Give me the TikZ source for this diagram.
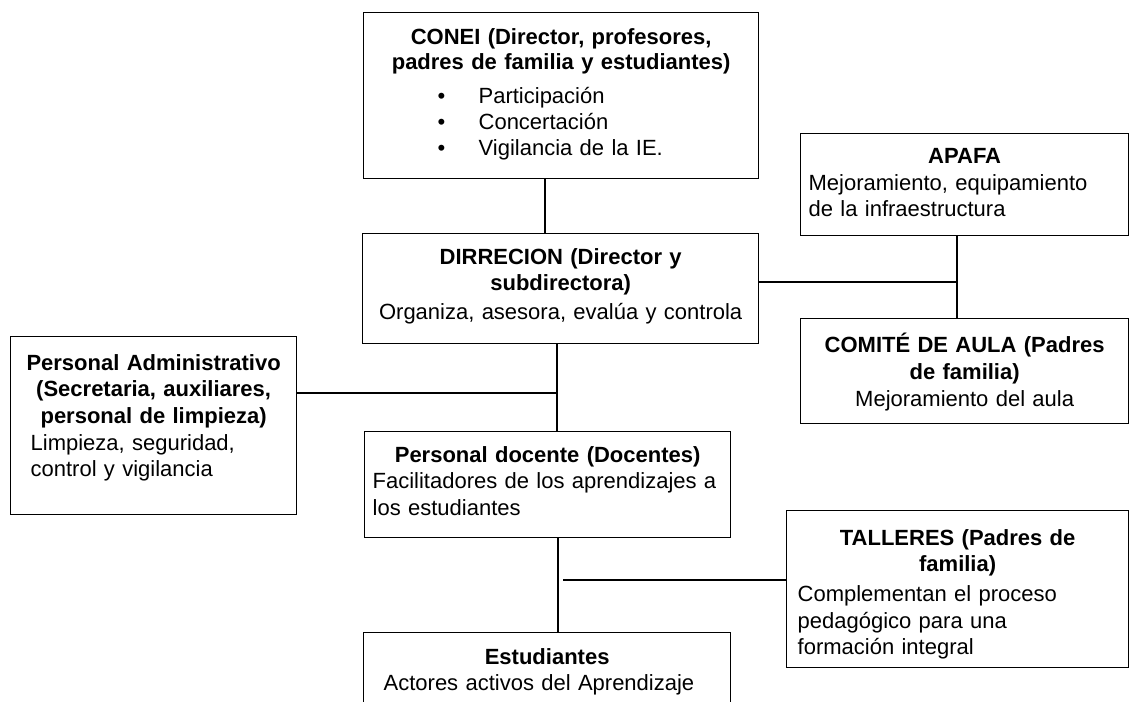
\documentclass[tikz,border=0pt]{standalone}
\usepackage{fontspec}
\setmainfont{Liberation Sans}
\usetikzlibrary{positioning}
\begin{document}
\begin{tikzpicture}[x=0.5pt,y=-0.5pt,
  font=\fontsize{11pt}{13.3pt}\selectfont,
  box/.style={draw,line width=0.65pt,anchor=north west,inner sep=0pt},
  txt/.style={inner sep=0pt},
  link/.style={line width=1pt}]
\clip (0,0) rectangle (1131,702);
% boxes
\node[box,minimum width=197.5pt,minimum height=83pt] (conei) at (363,12) {};
\node[box,minimum width=198pt,minimum height=55pt] (dir) at (362,233) {};
\node[box,minimum width=164pt,minimum height=51pt] (apafa) at (800,133) {};
\node[box,minimum width=164pt,minimum height=52.5pt] (comite) at (800,318) {};
\node[box,minimum width=143pt,minimum height=89pt] (adm) at (10,336) {};
\node[box,minimum width=183pt,minimum height=53pt] (doc) at (364,431) {};
\node[box,minimum width=171pt,minimum height=78.5pt] (taller) at (786,510) {};
\node[box,minimum width=183.5pt,minimum height=50pt] (est) at (363,632) {};
% texts
\node[txt,text width=189.5pt,below=8pt of conei.north] (conei-t) {%
  {\centering\bfseries CONEI (Director, profesores,\\[-0.5pt]padres de familia y estudiantes)\par}
  \vspace{3.5pt}
  \hspace*{33pt}\makebox[20.5pt][l]{\textbullet}Participación\\[-0.3pt]
  \hspace*{33pt}\makebox[20.5pt][l]{\textbullet}Concertación\\[-0.3pt]
  \hspace*{33pt}\makebox[20.5pt][l]{\textbullet}Vigilancia de la IE.};
\node[txt,text width=190pt,below=7.5pt of dir.north] (dir-t) {%
  {\centering\bfseries DIRRECION (Director y\\subdirectora)\par}
  \vspace{1pt}
  {\centering Organiza, asesora, evalúa y controla\par}};
\node[txt,text width=156pt,below=7.5pt of apafa.north] (apafa-t) {%
  {\centering\bfseries APAFA\par}
  Mejoramiento, equipamiento\\de la infraestructura};
\node[txt,text width=156pt,below=7.5pt of comite.north] (comite-t) {%
  \centering{\bfseries COMITÉ DE AULA (Padres\\de familia)\par}
  Mejoramiento del aula\par};
\node[txt,text width=135pt,below=9pt of adm.north] (adm-t) {%
  {\centering\bfseries Personal Administrativo\\(Secretaria, auxiliares,\\personal de limpieza)\par}
  \hspace*{6pt}Limpieza, seguridad,\\\hspace*{6pt}control y vigilancia};
\node[txt,text width=175pt,below=7.5pt of doc.north] (doc-t) {%
  {\centering\bfseries Personal docente (Docentes)\par}
  Facilitadores de los aprendizajes a\\los estudiantes};
\node[txt,text width=163pt,below=9.5pt of taller.north] (taller-t) {%
  {\centering\bfseries TALLERES (Padres de\\familia)\par}
  \vspace{1.5pt}
  \hspace*{1.5pt}Complementan el proceso\\\hspace*{1.5pt}pedagógico para una\\\hspace*{1.5pt}formación integral};
\node[txt,text width=175.5pt,below=8pt of est.north] (est-t) {%
  {\centering\bfseries Estudiantes\par}
  \hspace*{6pt}Actores activos del Aprendizaje};
% connectors
\coordinate (conetap) at ([xshift=-8pt]conei.south);
\coordinate (dirtap) at ([yshift=3.5pt]dir.east);
\coordinate (dirfoot) at ([xshift=-2pt]dir.south);
\coordinate (admtap) at ([yshift=16.5pt]adm.east);
\coordinate (apfoot) at ([xshift=-4pt]apafa.south);
\coordinate (docfoot) at ([xshift=5pt]doc.south);
\coordinate (tallend) at (563,580);
\draw[link] (conetap) -- (conetap |- dir.north);
\draw[link] (dirtap) -- (dirtap -| apfoot);
\draw[link] (apfoot) -- (apfoot |- comite.north);
\draw[link] (dirfoot) -- (dirfoot |- doc.north);
\draw[link] (admtap) -- (admtap -| dirfoot);
\draw[link] (docfoot) -- (docfoot |- est.north);
\draw[link] (tallend) -- (tallend -| taller.west);
\end{tikzpicture}
\end{document}
